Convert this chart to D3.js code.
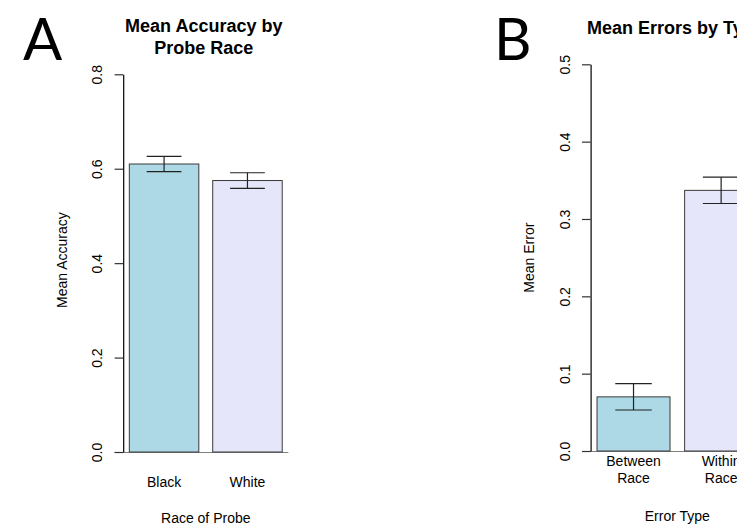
<!DOCTYPE html>
<html>
<head>
<meta charset="utf-8">
<script src="https://cdn.jsdelivr.net/npm/d3@7"></script>
<style>
  html, body { margin: 0; padding: 0; background: #fff; }
  svg { display: block; font-family: "Liberation Sans", Arial, Helvetica, sans-serif; }
</style>
</head>
<body>
<div id="chart"></div>
<script>
// Panel A data: accuracy by probe race
var raceCats = ["Black", "White"];
var accMeans = [0.61, 0.575];
var accSE    = [0.016, 0.0165];
var accTicks = [0, 0.2, 0.4, 0.6, 0.8];

// Panel B data: errors by type
var errCats  = [["Between", "Race"], ["Within", "Race"]];
var errMeans = [0.07, 0.337];
var errSE    = [0.017, 0.017];
var errTicks = [0, 0.1, 0.2, 0.3, 0.4, 0.5];

var width = 737, height = 530;
var fills = ["#ADD8E6", "#E6E6FA"];   //lightblue, lavender like R

var svg = d3.select("#chart").append("svg")
  .attr("width", width)
  .attr("height", height);

//Draw one R style barplot panel
function drawPanel(p) {
  var g = svg.append("g");

  // bars sit at 0.2 + i*1.2 with width 1 (R barplot default space)
  var x = d3.scaleLinear().domain([0.112, 0.112 + 2.376]).range([p.left, p.left + 2.376 * p.unit]);
  var y = d3.scaleLinear().domain([0, p.yMax]).range([p.bottom, p.top]);
  var barL = function(i) { return 0.2 + i * 1.2; };
  var tickLen = 8.6;

  // gray baseline
  g.append("line")
    .attr("x1", x(0.112) - tickLen).attr("x2", x(2.488))
    .attr("y1", y(0) + 0.5).attr("y2", y(0) + 0.5)
    .attr("stroke", "#808080").attr("stroke-width", 1.2);

  // bars
  g.selectAll("rect.bar")
    .data(p.means)
    .join("rect")
      .attr("class", "bar")
      .attr("x", function(d, i) { return x(barL(i)); })
      .attr("width", function(d, i) { return x(barL(i) + 1) - x(barL(i)); })
      .attr("y", function(d) { return y(d); })
      .attr("height", function(d) { return y(0) - y(d); })
      .attr("fill", function(d, i) { return fills[i]; })
      .attr("stroke", "#3a3a3a")
      .attr("stroke-width", 1);

  // error bars
  var eb = g.selectAll("g.err")
    .data(p.means.map(function(m, i) { return {m: m, se: p.se[i], c: barL(i) + 0.5}; }))
    .join("g").attr("class", "err")
    .attr("stroke", "#222").attr("stroke-width", 1.2);
  eb.append("line")
    .attr("x1", function(d) { return x(d.c); }).attr("x2", function(d) { return x(d.c); })
    .attr("y1", function(d) { return y(d.m - d.se); }).attr("y2", function(d) { return y(d.m + d.se); });
  eb.append("line")
    .attr("x1", function(d) { return x(d.c - 0.25); }).attr("x2", function(d) { return x(d.c + 0.25); })
    .attr("y1", function(d) { return y(d.m + d.se); }).attr("y2", function(d) { return y(d.m + d.se); });
  eb.append("line")
    .attr("x1", function(d) { return x(d.c - 0.25); }).attr("x2", function(d) { return x(d.c + 0.25); })
    .attr("y1", function(d) { return y(d.m - d.se); }).attr("y2", function(d) { return y(d.m - d.se); });

  // y axis with rotated labels
  var ax = g.append("g")
    .attr("transform", "translate(" + x(0.112) + ",0)")
    .call(d3.axisLeft(y).tickValues(p.ticks).tickSize(tickLen).tickSizeOuter(0).tickFormat(d3.format(".1f")));
  ax.select(".domain").attr("stroke", "#000").attr("stroke-width", 1.2);
  ax.selectAll(".tick line").attr("stroke", "#333").attr("stroke-width", 1.2);
  ax.selectAll(".tick text")
    .attr("transform", "rotate(-90)")
    .attr("x", 0).attr("y", -21).attr("dy", null)
    .attr("text-anchor", "middle")
    .attr("fill", "#000")
    .style("font-size", "14px")
    .style("font-family", "'Liberation Sans', Arial, sans-serif");

  var cx = (x(0.112) + x(2.488)) / 2;
  var cy = (y(0) + y(p.yMax)) / 2 + p.yTitleShift;

  // y axis title
  g.append("text")
    .attr("transform", "translate(" + (x(0.112) - 56.5) + "," + cy + ") rotate(-90)")
    .attr("text-anchor", "middle")
    .style("font-size", "14px")
    .text(p.yTitle);

  // category labels (may be multi-line)
  p.cats.forEach(function(c, i) {
    var lines = Array.isArray(c) ? c : [c];
    var t = g.append("text")
      .attr("text-anchor", "middle")
      .style("font-size", "14px");
    lines.forEach(function(s, k) {
      t.append("tspan")
        .attr("x", x(barL(i) + 0.5))
        .attr("y", y(0) + p.catY + k * 17.3)
        .text(s);
    });
  });

  // x axis title
  g.append("text")
    .attr("x", cx).attr("y", y(0) + p.xTitleY)
    .attr("text-anchor", "middle")
    .style("font-size", "14px")
    .text(p.xTitle);

  // main title
  var mt = g.append("text")
    .attr("text-anchor", "middle")
    .style("font-size", "18px")
    .style("font-weight", "bold");
  p.title.forEach(function(s, k) {
    mt.append("tspan").attr("x", cx + p.titleShift).attr("y", p.titleY + k * 22.3).text(s);
  });

  // panel letter
  g.append("text")
    .attr("x", p.letterX).attr("y", 60)
    .style("font-family", "Lato, 'Open Sans', sans-serif")
    .style("font-size", "58px")
    .text(p.letter);
}

drawPanel({
  letter: "A", letterX: 23,
  means: accMeans, se: accSE, cats: raceCats, ticks: accTicks, yMax: 0.8,
  left: 123.2, unit: 69.5, top: 74.3, bottom: 452,
  title: ["Mean Accuracy by", "Probe Race"], titleY: 31.7, titleShift: -2,
  yTitle: "Mean Accuracy", yTitleShift: -3,
  xTitle: "Race of Probe", catY: 34.7, xTitleY: 71.3
});

drawPanel({
  letter: "B", letterX: 494,
  means: errMeans, se: errSE, cats: errCats, ticks: errTicks, yMax: 0.5,
  left: 590.6, unit: 73, top: 64.3, bottom: 451,
  title: ["Mean Errors by Type"], titleY: 33.7, titleShift: -2,
  yTitle: "Mean Error", yTitleShift: 0,
  xTitle: "Error Type", catY: 15, xTitleY: 70
});
</script>
</body>
</html>
